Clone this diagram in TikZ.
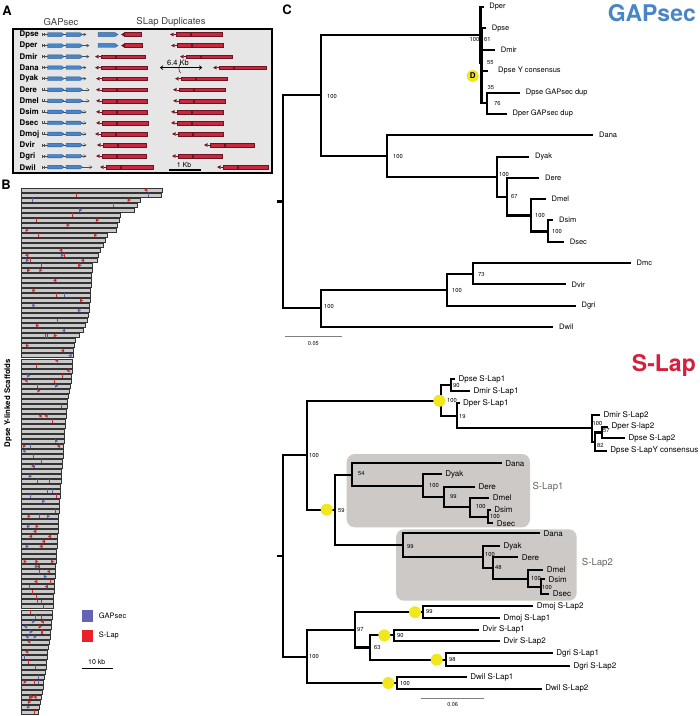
\documentclass[tikz,border=0pt]{standalone}
\usepackage{fontspec}
\setmainfont{TeX Gyre Heros}
\usetikzlibrary{arrows.meta}
\definecolor{gapblue}{HTML}{4A86C6}
\definecolor{gapbluedk}{HTML}{2C5B8E}
\definecolor{genered}{HTML}{C8283E}
\definecolor{generedk}{HTML}{6E1422}
\definecolor{boxgray}{HTML}{E6E6E6}
\definecolor{cladegray}{HTML}{CDC9C6}
\definecolor{scafgray}{HTML}{C9C9C9}
\definecolor{mred}{HTML}{D42A2E}
\definecolor{mblue}{HTML}{5566B0}
\definecolor{legblue}{HTML}{6464B4}
\definecolor{legred}{HTML}{E8202A}
\definecolor{dotyellow}{HTML}{F2E61C}
\definecolor{titleblue}{HTML}{4A86C6}
\definecolor{titlered}{HTML}{D61F3C}
\newcommand{\fs}[1]{\fontsize{#1}{#1}\selectfont}
\def\lgap{5pt}
\newcommand{\tleaf}[6]{%
  \coordinate (#3) at (#4,#5);
  \draw[tree] (#2) |- (#3);
  \node[#1] (l#3) at ([xshift=\lgap]#3) {#6};}
\newcommand{\tnode}[4]{%
  \coordinate (#2) at (#3,#4);
  \draw[tree] (#1) |- (#2);}
\newcommand{\gapg}[2]{%
  \draw[black!70, line width=0.5pt] (42,#1) -- (#2,#1);
  \draw[black!70, line width=0.5pt] (42,#1-1.5) -- (42,#1+1.5) (44.5,#1-1.5) -- (44.5,#1+1.5);
  \draw[geneB] (47.5,#1-1.8) -- (61.5,#1-1.8) -- (64,#1) -- (61.5,#1+1.8) -- (47.5,#1+1.8) -- cycle;
  \draw[geneB] (66,#1-1.8) -- (80,#1-1.8) -- (82.5,#1) -- (80,#1+1.8) -- (66,#1+1.8) -- cycle;
  \draw[black!70, line width=0.5pt] (#2-2.5,#1-1.5) -- (#2,#1) -- (#2-2.5,#1+1.5);}
\newcommand{\slapg}[3]{%
  \fill[generedk] (#2,#1) -- (#2+3.5,#1-1.8) -- (#2+3.5,#1+1.8) -- cycle;
  \draw[generedk, line width=0.5pt] (#2+3.5,#1) -- (#2+6,#1);
  \draw[geneR] (#2+6,#1-1.9) rectangle (#2+20,#1+1.9);
  \draw[geneR] (#2+21,#1-1.9) rectangle (#3,#1+1.9);}
\newcommand{\bluered}[2]{%
  \draw[geneB] (98,#1-1.9) -- (115,#1-1.9) -- (118,#1) -- (115,#1+1.9) -- (98,#1+1.9) -- cycle;
  \fill[generedk] (121,#1) -- (124,#1-1.8) -- (124,#1+1.8) -- cycle;
  \draw[geneR] (124.5,#1-1.9) rectangle (#2,#1+1.9);}
\begin{document}
\begin{tikzpicture}[x=1pt,y=-1pt,
  tree/.style={line width=2.1pt},
  boot/.style={font=\fs{5.8}, inner sep=0pt, anchor=west},
  gleaf/.style={font=\fs{7.5}, inner sep=0pt, anchor=west},
  sleaf/.style={font=\fs{8}, inner sep=0pt, anchor=west},
  ydot/.style={circle, fill=dotyellow, minimum size=12pt, inner sep=0pt},
  panel/.style={font=\bfseries\fs{13}, inner sep=0pt},
  rowlab/.style={font=\bfseries\fs{7.8}, inner sep=0pt, anchor=west},
  geneR/.style={fill=genered, draw=generedk, line width=0.4pt},
  geneB/.style={fill=gapblue, draw=gapbluedk, line width=0.4pt},
  scaf/.style={fill=scafgray, draw=black!80, line width=0.35pt},
  sbar/.style={draw=black!50, line width=0.6pt},
  clade/.style={fill=cladegray, rounded corners=8pt}]
\useasboundingbox (0,0) rectangle (700,716);
\fill[white] (0,0) rectangle (700,716);

% ---------- Panel A ----------
\node[panel] (pA) at (7,11) {A};
\node[font=\fs{9.5}, text=black!75, inner sep=0pt] (hG) at (61,21.7) {GAPsec};
\node[font=\fs{9.5}, text=black!75, inner sep=0pt] (hS) at (171,21.7) {SLap Duplicates};
\draw[line width=2pt, fill=boxgray] (13.4,29) rectangle (272,173);
\foreach \nm/\gend/\xa/\xb/\xc/\xd [count=\i from 0] in {Dpse/86/0/0/170/222, Dper/89/0/0/171/223, Dmir/89/95/145/180/232, Dana/86/95/147/213/266, Dyak/86/96/147/175/227, Dere/89/96/147/173/225, Dmel/89/96/147/173/225, Dsim/86/96/147/171/223, Dsec/86/96/148/171/223, Dmoj/86/95/147/172/223, Dvir/86/97/146/204/254, Dgri/86/96/146/172/222, Dwil/92/100/153/217/268}{
  \pgfmathsetmacro{\yy}{34.5+11.05*\i}
  \node[rowlab] (r\nm) at (19.5,\yy) {\nm};
  \gapg{\yy}{\gend}
  \ifnum\xa>0 \slapg{\yy}{\xa}{\xb}\fi
  \slapg{\yy}{\xc}{\xd}
}
\bluered{34.5}{141}
\bluered{45.55}{142}
\coordinate (k64a) at (160,67.6);
\coordinate (k64b) at (202.3,67.6);
\draw[{Straight Barb[length=2.5pt,width=4pt]}-{Straight Barb[length=2.5pt,width=4pt]}, line width=0.7pt] (k64a) -- (k64b);
\draw[line width=0.5pt] (180.5,63.5) .. controls (178.3,66.5) and (178.3,70) .. (180.5,73);
\node[font=\fs{7.5}, inner sep=0pt] (t64) at (178,62.5) {6.4 Kb};
\coordinate (kb1a) at (169.3,170);
\coordinate (kb1b) at (201,170);
\draw[line width=2.5pt] (kb1a) -- (kb1b);
\node[font=\fs{7}, inner sep=0pt] (t1kb) at (184,164.5) {1 Kb};

% ---------- Panel B ----------
\node[panel] (pB) at (6,185) {B};
\pgfmathsetseed{4711}
\foreach \rr [count=\i from 0] in {162,161,140,137,134,120,119,117,116,107,105,103,100,98,97,92,92,91,91,91,90,90,90,89,89,88,87,85,83,79,75,74,73,73,72,72,72,71,71,70,69,68,67,67,66,66,65,65,64,64,64,63,63,63,62,62,61,61,61,60,60,60,59,59,59,58,58,58,58,57,57,57,56,56,56,55,55,55,54,54,54,53,53,53,52,52,51,51,50,50,49,48,47,47,46,46,45,44,43,43,42,41,40,39,38}{
  \pgfmathsetmacro{\yy}{190+5.02*\i}
  \draw[scaf] (21.5,\yy-2) rectangle (\rr,\yy+2);
  \foreach \kk in {1,2,3}{
    \pgfmathsetmacro{\uu}{rnd}
    \pgfmathsetmacro{\px}{24+rnd*(\rr-27)}
    \pgfmathsetmacro{\cc}{rnd}
    \pgfmathsetmacro{\dd}{rnd}
    \ifdim\cc pt<0.7pt \def\mc{mred}\else\def\mc{mblue}\fi
    \ifdim\uu pt<0.3pt
      \ifdim\dd pt<0.5pt
        \fill[\mc] (\px-1.6,\yy-1.9) -- (\px+1.6,\yy) -- (\px-1.6,\yy+1.9) -- cycle;
      \else
        \fill[\mc] (\px+1.6,\yy-1.9) -- (\px-1.6,\yy) -- (\px+1.6,\yy+1.9) -- cycle;
      \fi
    \else
      \ifdim\uu pt<0.45pt
        \draw[\mc, line width=0.45pt] (\px,\yy-2) -- (\px,\yy+2);
      \fi
    \fi
  }
}
\node[rotate=90, font=\bfseries\fs{7.8}, inner sep=0pt] (ylab) at (8,403) {Dpse Y-linked Scaffolds};
\node[fill=legblue, minimum size=11.6pt, inner sep=0pt] (lgB) at (87.5,615.8) {};
\node[font=\fs{7.5}, anchor=west, inner sep=0pt] (lgBt) at (98.7,615.3) {GAPsec};
\node[fill=legred, minimum size=11.6pt, inner sep=0pt] (lgR) at (87.5,635.8) {};
\node[font=\fs{7.5}, anchor=west, inner sep=0pt] (lgRt) at (98.7,635.3) {S-Lap};
\coordinate (sb10a) at (81.7,668.3);
\coordinate (sb10b) at (112.7,668.3);
\draw[line width=0.6pt] (sb10a) -- (sb10b);
\node[font=\fs{7}, inner sep=0pt] (t10kb) at (96.7,661.7) {10 kb};

% ---------- Panel C ----------
\node[panel] (pC) at (287,10) {C};
\node[font=\bfseries\fs{23}, text=titleblue, anchor=east, inner sep=0pt] (ttG) at (696,13) {GAPsec};
\node[font=\bfseries\fs{23}, text=titlered, anchor=east, inner sep=0pt] (ttS) at (696,365) {S-Lap};

% GAPsec tree
\def\lgap{5.7pt}
\coordinate (gR) at (283.3,201.5);
\coordinate (gRt) at (276.5,201.5);
\draw[tree] (gRt) -- (gR);
\tnode{gR}{gN1}{320.7}{95}
\tnode{gN1}{gNA}{480.5}{35}
\tleaf{gleaf}{gNA}{gDper}{483.5}{6.7}{Dper}
\tnode{gNA}{gNB}{481.5}{63}
\tleaf{gleaf}{gNB}{gDpse}{486}{28.3}{Dpse}
\tleaf{gleaf}{gNB}{gDmir}{495}{50}{Dmir}
\def\lgap{10pt}
\tleaf{gleaf}{gNB}{gDpseY}{488}{71}{Dpse Y consensus}
\def\lgap{5.7pt}
\tnode{gNB}{gND}{487.3}{103.3}
\tleaf{gleaf}{gND}{gDpsed}{520}{92.7}{Dpse GAPsec dup}
\tleaf{gleaf}{gND}{gDperd}{506.7}{114}{Dper GAPsec dup}
\tnode{gN1}{gN3}{387.3}{155.8}
\tleaf{gleaf}{gN3}{gDana}{593.3}{135}{Dana}
\tnode{gN3}{gN4}{497.3}{176.7}
\tleaf{gleaf}{gN4}{gDyak}{529.3}{156.7}{Dyak}
\tnode{gN4}{gN5}{507.3}{196.7}
\tleaf{gleaf}{gN5}{gDere}{539.3}{177.7}{Dere}
\tnode{gN5}{gN6}{530.7}{215.5}
\tleaf{gleaf}{gN6}{gDmel}{545.7}{199}{Dmel}
\tnode{gN6}{gN7}{548.3}{231.5}
\tleaf{gleaf}{gN7}{gDsim}{553.3}{220}{Dsim}
\tleaf{gleaf}{gN7}{gDsec}{564}{242}{Dsec}
\tnode{gR}{gN8}{320.7}{308.3}
\tnode{gN8}{gN9}{447.3}{290}
\tnode{gN9}{gN10}{472.7}{273.8}
\tleaf{gleaf}{gN10}{gDmoj}{630.7}{263.3}{Dmc}
\tleaf{gleaf}{gN10}{gDvir}{565.7}{284.3}{Dvir}
\tleaf{gleaf}{gN9}{gDgri}{575.7}{305.7}{Dgri}
\tleaf{gleaf}{gN8}{gDwil}{553.3}{326.7}{Dwil}
\node[boot, anchor=east] (bg1) at (479.5,39) {100};
\node[boot] (bg2) at (484,39) {61};
\node[boot] (bg3) at (487,63) {55};
\node[boot] (bg4) at (487.5,87) {35};
\node[boot] (bg5) at (494,103.5) {76};
\node[boot] (bg6) at (327,96.7) {100};
\node[boot] (bg7) at (393,156) {100};
\node[boot] (bg8) at (499,174.3) {100};
\node[boot] (bg9) at (511,196.7) {67};
\node[boot] (bg10) at (535,215) {100};
\node[boot] (bg11) at (552,231) {100};
\node[boot] (bg12) at (324,306.7) {100};
\node[boot] (bg13) at (452,290) {100};
\node[boot] (bg14) at (478,274) {73};
\node[ydot, font=\bfseries\fs{8}] (dotD) at (472.7,76) {D};
\coordinate (sc5a) at (285,336.7);
\coordinate (sc5b) at (341.7,336.7);
\draw[sbar] (sc5a) -- (sc5b);
\node[font=\fs{5.5}, inner sep=0pt] (t005) at (313.3,343.3) {0.05};

% S-Lap tree
\fill[clade] (346.7,454) rectangle (530,527.3);
\fill[clade] (396,529.3) rectangle (576.7,600.7);
\node[font=\fs{9.6}, text=black!60, anchor=west, inner sep=0pt] (cl1) at (532.3,487.3) {S-Lap1};
\node[font=\fs{9.6}, text=black!60, anchor=west, inner sep=0pt] (cl2) at (581.7,562.7) {S-Lap2};
\def\lgap{3.4pt}
\coordinate (sR) at (283.3,556);
\coordinate (sRt) at (276.5,556);
\draw[tree] (sRt) -- (sR);
\tnode{sR}{sNa}{306.7}{455}
\tnode{sNa}{sNb}{441}{400.8}
\tnode{sNb}{sNc}{451}{385.2}
\tleaf{sleaf}{sNc}{sDpse1}{455}{379.3}{Dpse S-Lap1}
\tleaf{sleaf}{sNc}{sDmir1}{470}{391}{Dmir S-Lap1}
\tnode{sNb}{sNd}{456.7}{415.8}
\tleaf{sleaf}{sNd}{sDper1}{459.5}{403.3}{Dper S-Lap1}
\tnode{sNd}{sNe}{591.7}{428.3}
\tleaf{sleaf}{sNe}{sDmir2}{600}{415}{Dmir S-Lap2}
\tnode{sNe}{sNf}{595}{441.7}
\tnode{sNf}{sNg}{601.7}{432.5}
\tleaf{sleaf}{sNg}{sDper2}{608}{426.7}{Dper S-lap2}
\tleaf{sleaf}{sNg}{sDpse2}{625}{438.3}{Dpse S-Lap2}
\tleaf{sleaf}{sNf}{sDpseY}{606.7}{450.7}{Dpse S-LapY consensus}
\tnode{sNa}{sNh}{335}{509.7}
\tnode{sNh}{sNi}{352.3}{474.7}
\tleaf{sleaf}{sNi}{sDana1}{501.7}{463.3}{Dana}
\tnode{sNi}{sNj}{423.3}{486.3}
\tleaf{sleaf}{sNj}{sDyak1}{441.7}{474.3}{Dyak}
\tnode{sNj}{sNk}{444.3}{497.2}
\tleaf{sleaf}{sNk}{sDere1}{475}{486.7}{Dere}
\tnode{sNk}{sNl}{470}{507.4}
\tleaf{sleaf}{sNl}{sDmel1}{489.3}{498}{Dmel}
\tnode{sNl}{sNm}{488.3}{516.7}
\tleaf{sleaf}{sNm}{sDsim1}{490.7}{510}{Dsim}
\tleaf{sleaf}{sNm}{sDsec1}{493.3}{523.3}{Dsec}
\tnode{sNh}{sNn}{403.3}{545.3}
\tleaf{sleaf}{sNn}{sDana2}{540}{533.3}{Dana}
\tnode{sNn}{sNo}{483.3}{557.3}
\tleaf{sleaf}{sNo}{sDyak2}{500}{546}{Dyak}
\tnode{sNo}{sNp}{492.7}{568.4}
\tleaf{sleaf}{sNp}{sDere2}{518.3}{557.3}{Dere}
\tnode{sNp}{sNq}{528.3}{578.8}
\tleaf{sleaf}{sNq}{sDmel2}{543.3}{570}{Dmel}
\tnode{sNq}{sNr}{540.7}{586.7}
\tleaf{sleaf}{sNr}{sDsim2}{545}{579.3}{Dsim}
\tleaf{sleaf}{sNr}{sDsec2}{549.3}{594}{Dsec}
\tnode{sR}{sNs}{306.7}{657}
\tnode{sNs}{sNt}{355}{629.7}
\tnode{sNt}{sNu}{422.7}{612.2}
\tleaf{sleaf}{sNu}{sDmoj2}{533.3}{606}{Dmoj S-Lap2}
\tleaf{sleaf}{sNu}{sDmoj1}{500}{618.3}{Dmoj S-Lap1}
\tnode{sNt}{sNv}{370}{647.5}
\tnode{sNv}{sNw}{394.3}{635.4}
\tleaf{sleaf}{sNw}{sDvir1}{479}{629.7}{Dvir S-Lap1}
\tleaf{sleaf}{sNw}{sDvir2}{500}{641}{Dvir S-Lap2}
\tnode{sNv}{sNx}{446}{659.7}
\tleaf{sleaf}{sNx}{sDgri1}{552.7}{653.3}{Dgri S-Lap1}
\tleaf{sleaf}{sNx}{sDgri2}{570}{666}{Dgri S-Lap2}
\tnode{sNs}{sNy}{397.3}{683}
\tleaf{sleaf}{sNy}{sDwil1}{466.7}{677.3}{Dwil S-Lap1}
\tleaf{sleaf}{sNy}{sDwil2}{541.7}{688.7}{Dwil S-Lap2}
\node[boot] (bs1) at (309,455) {100};
\node[boot] (bs2) at (447,400) {100};
\node[boot] (bs3) at (453,385) {90};
\node[boot] (bs4) at (459,416.7) {19};
\node[boot] (bs5) at (592.5,423.3) {100};
\node[boot] (bs6) at (603,431) {57};
\node[boot] (bs7) at (597,445) {82};
\node[boot] (bs8) at (338,510) {59};
\node[boot] (bs9) at (358,473.3) {54};
\node[boot] (bs10) at (429,485.7) {100};
\node[boot] (bs11) at (450,496.7) {99};
\node[boot] (bs12) at (475.7,506.7) {100};
\node[boot] (bs13) at (490,516) {100};
\node[boot] (bs14) at (407,546) {99};
\node[boot] (bs15) at (485,554.3) {100};
\node[boot] (bs16) at (495,567.7) {48};
\node[boot] (bs17) at (531,578.3) {100};
\node[boot] (bs18) at (542,587.3) {100};
\node[boot] (bs19) at (309,656.7) {100};
\node[boot] (bs20) at (357,629) {97};
\node[boot] (bs21) at (426,611.7) {99};
\node[boot] (bs22) at (374,647.3) {63};
\node[boot] (bs23) at (397,635.7) {90};
\node[boot] (bs24) at (449,659.3) {98};
\node[boot] (bs25) at (400,683.3) {100};
\node[ydot] (y1) at (439.3,400.8) {};
\node[ydot] (y2) at (326.7,509.7) {};
\node[ydot] (y3) at (415,612.2) {};
\node[ydot] (y4) at (384.3,635.4) {};
\node[ydot] (y5) at (436.7,659.7) {};
\node[ydot] (y6) at (388.3,683) {};
\coordinate (sc6a) at (420.7,698.3);
\coordinate (sc6b) at (484,698.3);
\draw[sbar] (sc6a) -- (sc6b);
\node[font=\fs{5.5}, inner sep=0pt] (t006) at (452.7,705) {0.06};
\end{tikzpicture}
\end{document}
